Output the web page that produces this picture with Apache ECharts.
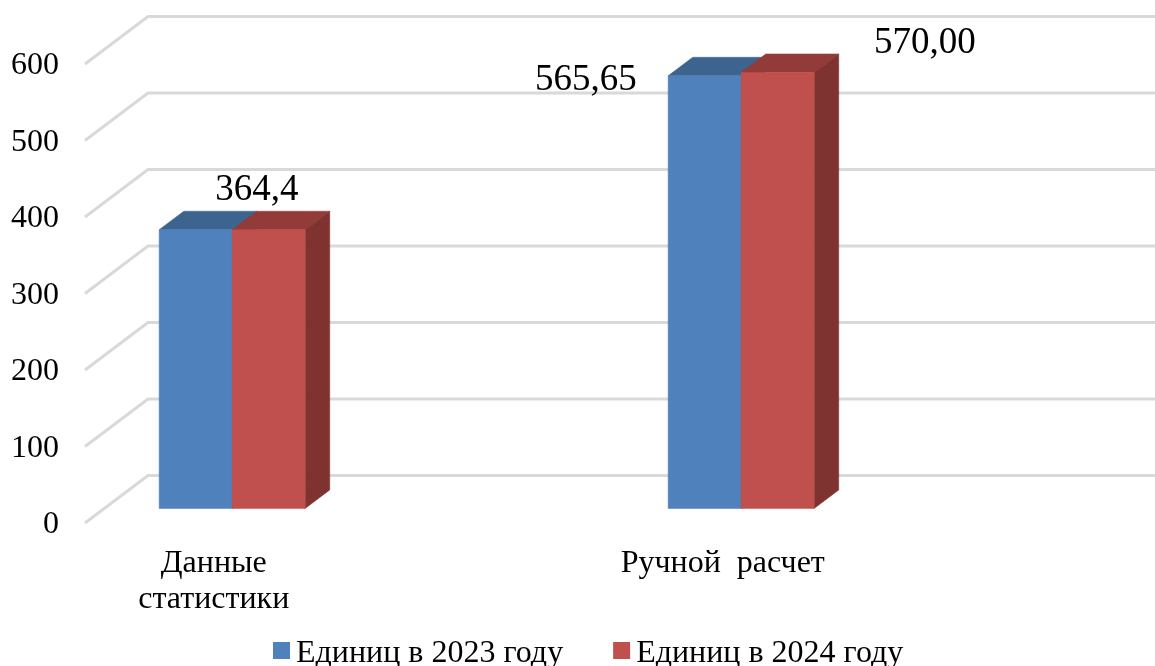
<!DOCTYPE html>
<html>
<head>
<meta charset="utf-8">
<style>html,body{margin:0;padding:0;background:#fff}#c{width:1155px;height:666px}</style>
<script src="https://cdn.jsdelivr.net/npm/echarts@6/dist/echarts.min.js"></script>
</head>
<body>
<div id="c"></div>
<script>
// Data
const categories = ['Данные\nстатистики', '', 'Ручной  расчет', ''];
const yTicks = [0, 100, 200, 300, 400, 500, 600];
const seriesNames = ['Единиц в 2023 году', 'Единиц в 2024 году'];
const values2023 = [364.4, null, 565.65, null];
const values2024 = [364.4, null, 570, null];
const labels2023 = ['', '', '565,65', ''];
const labels2024 = ['364,4', '', '570,00', ''];

// Layout and style (pixels)
const FONT = '"Liberation Serif", serif';
const wall = { dx: 63, dy: -47.5 };
const barPlane = { dx: 19.9, dy: -14.5 };
const barDepth = { dx: 24.6, dy: -18.5 };
const BAR_W = 73;
const labelOffset2023 = { 2: [-118.9, 4.5] };
const labelOffset2024 = { 0: [-11.9, -39.5], 2: [147.1, -29] };

function gridRender(params, api) {
  const c = params.coordSys;
  const y = api.coord([0, api.value(1)])[1];
  return {
    type: 'polyline',
    shape: { points: [[c.x, y], [c.x + wall.dx, y + wall.dy], [c.x + c.width + wall.dx, y + wall.dy]] },
    style: { stroke: '#D9D9D9', lineWidth: 3, fill: null }
  };
}

function barRender(side, colors, labels, offsets) {
  return function (params, api) {
    const val = api.value(1);
    if (val == null || isNaN(val)) return null;
    const i = api.value(0);
    const top = api.coord([i, val]);
    const base = api.coord([i, 0]);
    const xc = top[0] + barPlane.dx;
    const x0 = side === 0 ? xc - BAR_W : xc;
    const x1 = x0 + BAR_W;
    const yt = top[1] + barPlane.dy;
    const yb = base[1] + barPlane.dy;
    const d = barDepth;
    const poly = (pts, color) => ({ type: 'polygon', shape: { points: pts }, style: { fill: color, stroke: color, lineWidth: 0.5 } });
    const children = [
      poly([[x0, yt], [x0 + d.dx, yt + d.dy], [x1 + d.dx, yt + d.dy], [x1, yt]], colors.top),
      poly([[x1, yt], [x1 + d.dx, yt + d.dy], [x1 + d.dx, yb + d.dy], [x1, yb]], colors.side),
      poly([[x0, yt], [x1, yt], [x1, yb], [x0, yb]], colors.front)
    ];
    const text = labels[i];
    if (text) {
      const off = offsets[i];
      children.push({
        type: 'text',
        style: {
          text, x: x0 + BAR_W / 2 + off[0], y: yt + off[1],
          font: '37px ' + FONT, fill: '#000', align: 'center', verticalAlign: 'middle'
        }
      });
    }
    return { type: 'group', children };
  };
}

const toData = arr => arr.map((v, i) => [i, v]);
const chart = echarts.init(document.getElementById('c'), null, { renderer: 'canvas' });
chart.setOption({
  animation: false,
  backgroundColor: '#fff',
  grid: { left: 85, top: 64, width: 1018, height: 459, containLabel: false },
  legend: {
    data: seriesNames,
    left: 273, top: 638, padding: 0,
    itemWidth: 17, itemHeight: 17, itemGap: 50, icon: 'rect',
    formatter: '{a|{name}}',
    textStyle: {
      rich: { a: { fontFamily: FONT, fontSize: 32, color: '#000', padding: [7, 0, 0, 1] } }
    }
  },
  xAxis: {
    type: 'category', data: categories,
    axisLine: { show: false }, axisTick: { show: false }, splitLine: { show: false },
    axisLabel: { interval: 0, fontFamily: FONT, fontSize: 32, color: '#000', lineHeight: 36, margin: 23, padding: [0, 0, 0, 3] }
  },
  yAxis: {
    type: 'value', min: 0, max: 600, interval: 100,
    axisLine: { show: false }, axisTick: { show: false }, splitLine: { show: false },
    axisLabel: {
      margin: 26,
      formatter: '{a|{value}}',
      rich: { a: { fontFamily: FONT, fontSize: 32, color: '#000', padding: [4, 0, 0, 0] } }
    }
  },
  series: [
    { type: 'custom', name: 'grid', silent: true, z: 1, clip: false, renderItem: gridRender,
      encode: { x: 0, y: 1 }, data: yTicks.map(v => [0, v]) },
    { type: 'custom', name: seriesNames[0], z: 2, clip: false, itemStyle: { color: '#4F81BD' },
      renderItem: barRender(0, { front: '#4F81BD', top: '#3D638F', side: '#345A85' }, labels2023, labelOffset2023),
      encode: { x: 0, y: 1 }, data: toData(values2023) },
    { type: 'custom', name: seriesNames[1], z: 3, clip: false, itemStyle: { color: '#C0504D' },
      renderItem: barRender(1, { front: '#C0504D', top: '#923B39', side: '#7F3330' }, labels2024, labelOffset2024),
      encode: { x: 0, y: 1 }, data: toData(values2024) }
  ]
});
</script>
</body>
</html>
